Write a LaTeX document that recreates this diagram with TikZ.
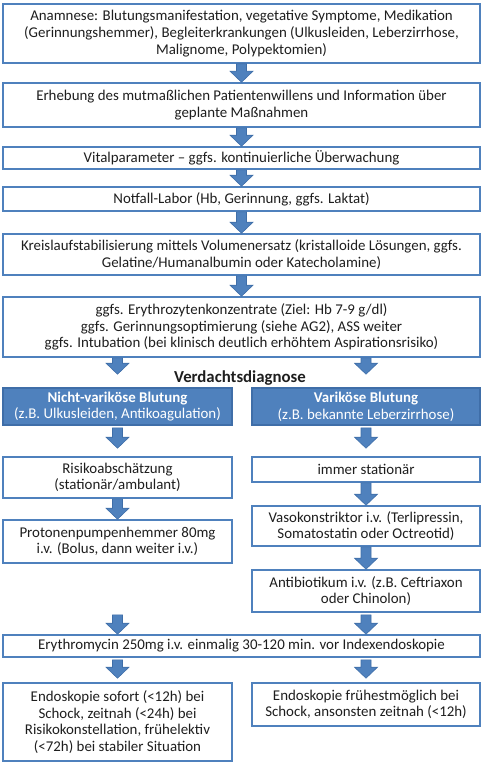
\documentclass[tikz,border=0pt]{standalone}
\usepackage{fontspec}
\setmainfont{Carlito}
\usetikzlibrary{calc}
\definecolor{bblue}{HTML}{4F81BD}
\definecolor{dblue}{HTML}{3F6EA8}
\definecolor{txt}{HTML}{1E1E1E}
\tikzset{
  box/.style={draw=bblue, line width=1.6pt, fill=white, inner sep=0pt, align=center,
    text=txt, font=\fontsize{14.9}{16.7}\selectfont},
  hbox/.style={box, fill=bblue, draw=dblue, text=white},
  barrowstyle/.style={fill=bblue, draw=dblue, line width=0.6pt, line join=miter},
}
\newcommand\barrow[2]{%
  \path[barrowstyle] let \p1=#1, \p2=#2 in
    (\x1-5pt,\y1) -- (\x1-5pt,\y2+11pt) -- (\x1-11.5pt,\y2+11pt) -- (\x1,\y2)
    -- (\x1+11.5pt,\y2+11pt) -- (\x1+5pt,\y2+11pt) -- (\x1+5pt,\y1) -- cycle;}
\begin{document}
\begin{tikzpicture}[x=1pt,y=-1pt]
\useasboundingbox (0,0) rectangle (488,768);
\node[box, minimum width=477pt, minimum height=59pt] (b1) at (241.5,33.5)
  {Anamnese: Blutungsmanifestation, vegetative Symptome, Medikation\\(Gerinnungshemmer), Begleiterkrankungen (Ulkusleiden, Leberzirrhose,\\Malignome, Polypektomien)};
\node[box, minimum width=477pt, minimum height=44pt] (b2) at (241.5,105)
  {Erhebung des mutmaßlichen Patientenwillens und Information über\\geplante Maßnahmen};
\node[box, minimum width=477pt, minimum height=22pt] (b3) at (241.5,158)
  {Vitalparameter – ggfs. kontinuierliche Überwachung};
\node[box, minimum width=477pt, minimum height=24pt] (b4) at (241.5,199)
  {Notfall-Labor (Hb, Gerinnung, ggfs. Laktat)};
\node[box, minimum width=477pt, minimum height=41pt] (b5) at (241.5,254.5)
  {Kreislaufstabilisierung mittels Volumenersatz (kristalloide Lösungen, ggfs.\\Gelatine/Humanalbumin oder Katecholamine)};
\node[box, minimum width=477pt, minimum height=60pt] (b6) at (241.5,327)
  {ggfs. Erythrozytenkonzentrate (Ziel: Hb 7-9 g/dl)\\ggfs. Gerinnungsoptimierung (siehe AG2), ASS weiter\\ggfs. Intubation (bei klinisch deutlich erhöhtem Aspirationsrisiko)};
\node[font=\fontsize{16.8}{18}\selectfont\bfseries, text=txt, inner sep=0pt] (vd) at (240,378) {Verdachtsdiagnose};
\node[hbox, minimum width=229pt, minimum height=37pt] (nl) at (117.5,406.5)
  {\textbf{Nicht-variköse Blutung}\\(z.B. Ulkusleiden, Antikoagulation)};
\node[hbox, minimum width=228pt, minimum height=37pt] (vl) at (366,406.5)
  {\textbf{Variköse Blutung}\\(z.B. bekannte Leberzirrhose)};
\node[box, minimum width=229pt, minimum height=41pt] (risk) at (117.5,477.5)
  {Risikoabschätzung\\(stationär/ambulant)};
\node[box, minimum width=228pt, minimum height=25pt] (imm) at (366,469.5)
  {immer stationär};
\node[box, minimum width=228pt, minimum height=40pt] (vaso) at (366,526)
  {Vasokonstriktor i.v. (Terlipressin,\\Somatostatin oder Octreotid)};
\node[box, minimum width=229pt, minimum height=43pt] (ppi) at (117.5,541.5)
  {Protonenpumpenhemmer 80mg\\i.v. (Bolus, dann weiter i.v.)};
\node[box, minimum width=228pt, minimum height=42pt] (anti) at (366,591)
  {Antibiotikum i.v. (z.B. Ceftriaxon\\oder Chinolon)};
\node[box, minimum width=477pt, minimum height=22pt] (ery) at (241.5,646)
  {Erythromycin 250mg i.v. einmalig 30-120 min. vor Indexendoskopie};
\node[box, minimum width=229pt, minimum height=78pt] (endl) at (117.5,722)
  {Endoskopie sofort (<12h) bei\\Schock, zeitnah (<24h) bei\\Risikokonstellation, frühelektiv\\(<72h) bei stabiler Situation};
\node[box, minimum width=228pt, minimum height=43pt] (endr) at (366,704.5)
  {Endoskopie frühestmöglich bei\\Schock, ansonsten zeitnah (<12h)};
% arrows
\coordinate (vdl) at ($(nl.north)+(0,-13)$);
\coordinate (vdr) at ($(vl.north)+(0,-13)$);
\barrow{(b1.south)}{(b2.north)}
\barrow{(b2.south)}{(b3.north)}
\barrow{(b3.south)}{(b4.north)}
\barrow{(b4.south)}{(b5.north)}
\barrow{(b5.south)}{(b6.north)}
\barrow{(nl.north |- b6.south)}{(vdl)}
\barrow{(vl.north |- b6.south)}{(vdr)}
\barrow{($(nl.south)+(0,2)$)}{($(risk.north)+(0,-8)$)}
\barrow{($(vl.south)+(0,2)$)}{($(imm.north)+(0,-8)$)}
\barrow{(risk.south)}{(ppi.north)}
\barrow{(imm.south)}{(vaso.north)}
\barrow{(vaso.south)}{(anti.north)}
\barrow{($(ppi.north |- anti.south)+(0,2)$)}{(ppi.north |- ery.north)}
\barrow{($(anti.south)+(0,2)$)}{(ery.north)}
\barrow{($(endl.north |- ery.south)+(0,2)$)}{($(endl.north)+(0,-4)$)}
\barrow{($(endr.north |- ery.south)+(0,2)$)}{($(endr.north)+(0,-4)$)}
\end{tikzpicture}
\end{document}
